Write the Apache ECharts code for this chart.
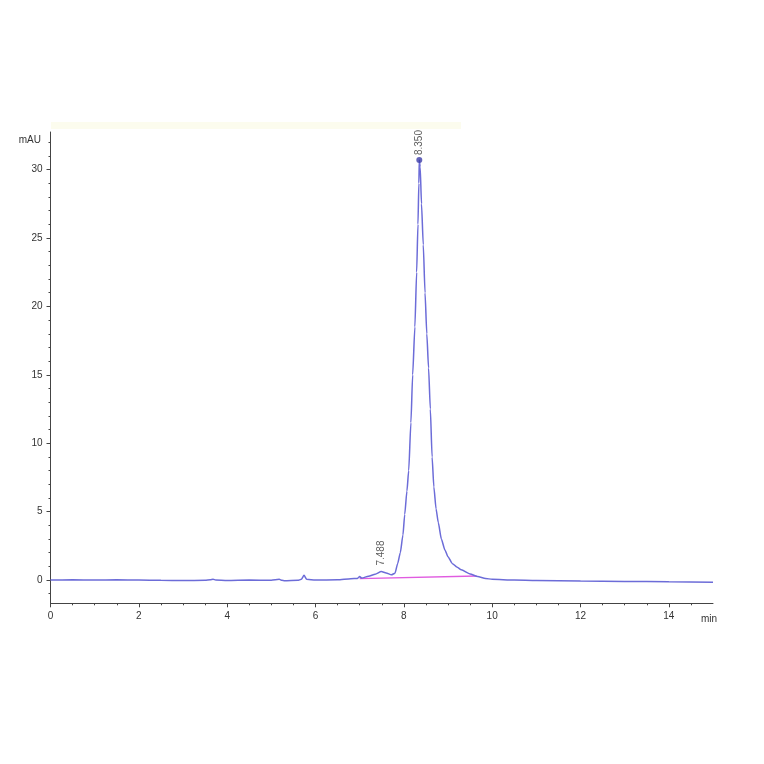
<!DOCTYPE html>
<html>
<head>
<meta charset="utf-8">
<title>Chromatogram</title>
<script src="https://cdn.jsdelivr.net/npm/echarts/dist/echarts.min.js"></script>
<style>
  html, body { margin: 0; padding: 0; background: #fff; }
  #main { width: 764px; height: 764px; }
</style>
</head>
<body>
<div id="main"></div>
<script>
// retention time (min) and detector signal (mAU)
var time = [0, 0.5, 1.0, 1.5, 2.0, 2.5, 3.0, 3.5, 3.62, 3.68,
    3.74, 4.0, 4.5, 5.0, 5.18, 5.24, 5.3, 5.6, 5.68, 5.74,
    5.8, 6.0, 6.5, 6.8, 6.95, 7.0, 7.05, 7.2, 7.35, 7.49,
    7.6, 7.72, 7.8, 7.86, 7.92, 7.98, 8.02, 8.07, 8.11, 8.16,
    8.20, 8.25, 8.29, 8.32, 8.34, 8.35, 8.37, 8.40, 8.44, 8.48,
    8.52, 8.56, 8.60, 8.64, 8.68, 8.73, 8.78, 8.85, 8.93, 9.0,
    9.1, 9.2, 9.3, 9.5, 9.67, 9.85, 10.0, 10.5, 11, 12,
    13, 14, 15];
var signal = [0, 0.02, 0, 0.02, 0, -0.02, -0.03, -0.02, 0.03, 0.06,
    0, -0.03, 0, -0.02, 0.05, -0.02, -0.05, -0.02, 0.05, 0.35,
    0.05, 0, 0.02, 0.1, 0.12, 0.25, 0.15, 0.28, 0.42, 0.62,
    0.52, 0.38, 0.5, 1.2, 2.0, 3.3, 4.8, 6.5, 8.0, 11.5,
    15.0, 18.5, 22.5, 26.0, 29.0, 30.7, 30.2, 27.5, 24.5, 21.0,
    18.0, 15.5, 12.5, 9.0, 6.8, 5.2, 4.2, 3.0, 2.2, 1.7,
    1.2, 0.95, 0.75, 0.45, 0.25, 0.12, 0.05, 0.0, -0.03, -0.07,
    -0.1, -0.13, -0.16];

// integration baseline (pink)
var baseTime = [7.0, 9.65];
var baseValue = [0.1, 0.3];

// peak apexes + retention time labels
var peakTime = [7.488, 8.350];
var peakValue = [0.62, 30.7];
var peakLabel = ['7.488', '8.350'];
var peakMarker = [false, true];

// tick positions
var xTicks = [0, 2, 4, 6, 8, 10, 12, 14];
var xMinor = [0.5, 1, 1.5, 2.5, 3, 3.5, 4.5, 5, 5.5, 6.5, 7, 7.5, 8.5, 9, 9.5,
    10.5, 11, 11.5, 12.5, 13, 13.5, 14.5];
var yTicks = [0, 5, 10, 15, 20, 25, 30];
var yMinor = [-1, 1, 2, 3, 4, 6, 7, 8, 9, 11, 12, 13, 14, 16, 17, 18, 19,
    21, 22, 23, 24, 26, 27, 28, 29, 31, 32];

var trace = time.map(function (t, i) { return [t, signal[i]]; });
var baseline = baseTime.map(function (t, i) { return [t, baseValue[i]]; });
var peaks = peakTime.map(function (t, i) {
    return {
        value: [t, peakValue[i]],
        symbolSize: peakMarker[i] ? 6 : 0,
        label: {
            formatter: peakLabel[i],
            distance: peakMarker[i] ? 2 : 6
        }
    };
});

var axisCol = '#444';
var txtCol = '#333';
var font = 'Liberation Sans, Arial, sans-serif';

var chart = echarts.init(document.getElementById('main'));
var option = {
    backgroundColor: '#fff',
    animation: false,
    grid: { left: 50.5, right: 51, top: 132, bottom: 160.7 },
    xAxis: [{
        type: 'value', min: 0, max: 15,
        axisLine: { onZero: false, lineStyle: { color: axisCol, width: 1 } },
        axisTick: { length: 4, customValues: xTicks, lineStyle: { color: axisCol } },
        axisLabel: {
            color: txtCol, fontSize: 10, fontFamily: font, margin: 8,
            customValues: xTicks
        },
        splitLine: { show: false }
    }, {
        // minor ticks
        type: 'value', min: 0, max: 15, position: 'bottom',
        axisLine: { show: false, onZero: false },
        axisTick: { length: 2, customValues: xMinor, lineStyle: { color: axisCol } },
        axisLabel: { show: false },
        splitLine: { show: false }
    }],
    yAxis: [{
        type: 'value', min: -1.7, max: 32.75,
        axisLine: { show: true, onZero: false, lineStyle: { color: axisCol, width: 1 } },
        axisTick: { show: true, length: 4, customValues: yTicks, lineStyle: { color: axisCol } },
        axisLabel: {
            color: txtCol, fontSize: 10, fontFamily: font, margin: 8,
            customValues: yTicks
        },
        splitLine: { show: false }
    }, {
        // minor ticks
        type: 'value', min: -1.7, max: 32.75, position: 'left',
        axisLine: { show: false, onZero: false },
        axisTick: { show: true, length: 2, customValues: yMinor, lineStyle: { color: axisCol } },
        axisLabel: { show: false },
        splitLine: { show: false }
    }],
    graphic: [
        // faint yellow strip along the top (from the scan)
        { type: 'rect', left: 51, top: 122, shape: { width: 410, height: 7 },
          style: { fill: '#fcfcee' }, silent: true },
        { type: 'text', right: 764 - 41, top: 135,
          style: { text: 'mAU', fill: txtCol, font: '10px ' + font, textAlign: 'right' } },
        { type: 'text', left: 701, top: 614,
          style: { text: 'min', fill: txtCol, font: '10px ' + font } }
    ],
    series: [{
        name: 'signal',
        type: 'line',
        data: trace,
        showSymbol: false,
        smooth: 0.2,
        smoothMonotone: 'x',
        lineStyle: { color: '#6c6cd8', width: 1.5 },
        z: 3
    }, {
        name: 'baseline',
        type: 'line',
        data: baseline,
        showSymbol: false,
        lineStyle: { color: '#e05ce0', width: 1.4 },
        z: 2
    }, {
        name: 'peaks',
        type: 'scatter',
        data: peaks,
        symbol: 'circle',
        itemStyle: { color: '#3c3ca8' },
        label: {
            show: true,
            position: 'top',
            rotate: 90,
            align: 'left',
            verticalAlign: 'middle',
            color: txtCol,
            fontSize: 10,
            fontFamily: font
        },
        z: 4
    }]
};
chart.setOption(option);
</script>
</body>
</html>
